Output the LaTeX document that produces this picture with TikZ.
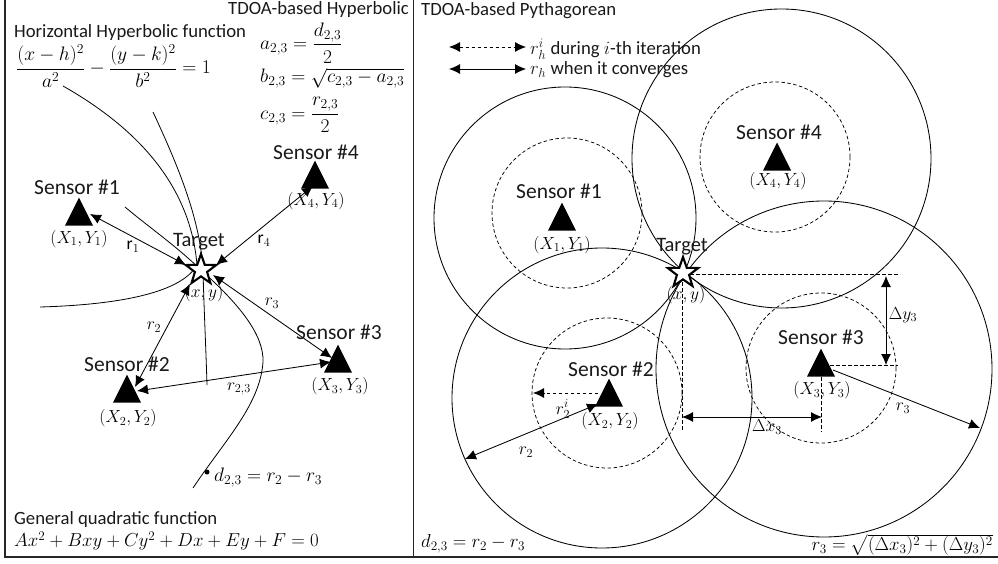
\documentclass[tikz,border=0pt]{standalone}
\usepackage{fix-cm}
\usepackage{amsmath}
\usepackage{fontspec}
\setmainfont{Carlito}
\usetikzlibrary{arrows.meta,shapes.geometric}
\tikzset{
  lbl/.style={inner sep=0pt,font=\fontsize{18.7}{22}\selectfont,text=black!90},
  sen/.style={inner sep=0pt,font=\fontsize{21.5}{25}\selectfont,text=black!90},
  tgt/.style={inner sep=0pt,font=\fontsize{20.5}{24}\selectfont,text=black!90},
  mth/.style={inner sep=0pt,font=\fontsize{18.8}{22}\selectfont,text=black},
  mbg/.style={inner sep=0pt,font=\fontsize{19.5}{23}\selectfont,text=black},
  msm/.style={inner sep=0pt,font=\fontsize{17.5}{20}\selectfont,text=black},
  sens/.style={isosceles triangle,shape border rotate=90,isosceles triangle stretches,minimum width=28pt,minimum height=28pt,inner sep=0pt,fill=black,anchor=apex},
  targ/.style={star,star points=5,star point ratio=2.5,minimum size=32pt,inner sep=0pt,fill=white,draw=black,line width=2.1pt},
  bigc/.style={circle,draw=black,line width=0.85pt,inner sep=0pt},
  dashc/.style={circle,draw=black,line width=0.75pt,inner sep=0pt,dash pattern=on 3.5pt off 2.5pt,minimum size=150pt},
  curve/.style={draw=black,line width=0.8pt},
  dbl/.style={line width=0.85pt,{Latex[length=11pt,width=10pt]}-{Latex[length=11pt,width=10pt]}},
  one/.style={line width=0.85pt,-{Latex[length=11pt,width=10pt]}},
  dline/.style={line width=0.85pt,dash pattern=on 3.5pt off 2.5pt},
  frameline/.style={line width=1.6pt,draw=black!85},
}
\begin{document}
\begin{tikzpicture}[x=1pt,y=-1pt]
\useasboundingbox (0,0) rectangle (998,564);
% frame
\coordinate (fa) at (5,0); \coordinate (fb) at (5,557); \coordinate (fc) at (998,557);
\coordinate (fm) at (413,0); \coordinate (fn) at (413,557);
\draw[frameline] (fa) -- (fb) -- (fc);
\draw[frameline,line width=1pt] (fm) -- (fn);

% ---------- left panel: hyperbolas
\coordinate (h1a) at (63,86); \coordinate (h1b) at (197,265); \coordinate (h1c) at (40,307);
\coordinate (h2a) at (153,112); \coordinate (h2b) at (203,270); \coordinate (h2c) at (207,385);
\coordinate (h3a) at (125,207); \coordinate (h3b) at (201,270); \coordinate (h3c) at (263,362); \coordinate (h3d) at (193,488);
\path[curve] (h1a) .. controls (130,124) and (190,180) .. (h1b) .. controls (180,295) and (110,305) .. (h1c);
\path[curve] (h2a) .. controls (180,170) and (200,220) .. (h2b) .. controls (204,310) and (206,350) .. (h2c);
\path[curve] (h3a) .. controls (150,228) and (175,245) .. (h3b) .. controls (240,305) and (264,335) .. (h3c) .. controls (260,405) and (225,440) .. (h3d);

% left sensors
\node[sens] (ls1) at (79,197) {};
\node[sens] (ls2) at (127,374) {};
\node[sens] (ls3) at (338,344) {};
\node[sens] (ls4) at (315,160) {};
\node[targ] (lt) at (201,270) {};

% left connectors
\coordinate (l1a) at (90,214); \coordinate (l1b) at (186,265);
\coordinate (l2a) at (135,387); \coordinate (l2b) at (190,284);
\coordinate (l3a) at (332,358); \coordinate (l3b) at (213,275);
\coordinate (l4a) at (313,186); \coordinate (l4b) at (216,265);
\coordinate (l5a) at (137,391); \coordinate (l5b) at (331,362);
\draw[dbl] (l1a) -- (l1b);
\draw[dbl] (l2a) -- (l2b);
\draw[dbl] (l3a) -- (l3b);
\draw[dbl] (l4a) -- (l4b);
\draw[dbl] (l5a) -- (l5b);
\node[circle,fill=black,inner sep=0pt,minimum size=5pt] (ldot) at (207,472) {};

% left text
\node[lbl,anchor=east] (t1) at (409,10) {TDOA-based Hyperbolic};
\node[lbl,anchor=west] (t2) at (14,33) {Horizontal Hyperbolic function};
\node[mbg,anchor=west] (t3) at (16,66) {$\dfrac{(x-h)^2}{a^2}-\dfrac{(y-k)^2}{b^2}=1$};
\node[mbg,anchor=west] (t4) at (260,43) {$a_{2,3}=\dfrac{d_{2,3}}{2}$};
\node[mbg,anchor=west] (t5) at (260,78) {$b_{2,3}=\sqrt{c_{2,3}-a_{2,3}}$};
\node[mbg,anchor=west] (t6) at (260,115) {$c_{2,3}=\dfrac{r_{2,3}}{2}$};
\node[sen] (s4t) at (316,152) {Sensor \#4};
\node[msm] (s4c) at (316,201) {$(X_4,Y_4)$};
\node[sen] (s1t) at (77,187) {Sensor \#1};
\node[msm] (s1c) at (79,239) {$(X_1,Y_1)$};
\node[tgt] (ltt) at (199,242) {Target};
\node[msm] (lxy) at (204,293) {$(x,y)$};
\node[msm] (lr1) at (133,247) {$\mathrm{r}_1$};
\node[msm] (lr4) at (264,241) {$\mathrm{r}_4$};
\node[msm] (lr3) at (272,303) {$r_3$};
\node[msm] (lr2) at (154,327) {$r_2$};
\node[msm] (lr23) at (239,389) {$r_{2,3}$};
\node[sen] (s3t) at (339,332) {Sensor \#3};
\node[msm] (s3c) at (340,386) {$(X_3,Y_3)$};
\node[sen] (s2t) at (127,364) {Sensor \#2};
\node[msm] (s2c) at (128,418) {$(X_2,Y_2)$};
\node[mbg,anchor=west] (ld) at (214,478) {$d_{2,3}=r_2-r_3$};
\node[lbl,anchor=west] (g1) at (14,520) {General quadratic function};
\node[mth,anchor=west] (g2) at (14,541) {$Ax^2+Bxy+Cy^2+Dx+Ey+F=0$};

% ---------- right panel: circles
\node[bigc,minimum size=262pt] (c1) at (565,218) {};
\node[bigc,minimum size=300pt] (c2) at (602,398) {};
\node[bigc,minimum size=336pt] (c3) at (824,369) {};
\node[bigc,minimum size=299pt] (c4) at (781.5,158.5) {};
\node[dashc] (d1) at (567,213) {};
\node[dashc] (d2) at (607,393) {};
\node[dashc] (d3) at (821,368) {};
\node[dashc] (d4) at (775,157) {};

\node[sens] (rs1) at (562,202) {};
\node[sens] (rs2) at (609,378) {};
\node[sens] (rs3) at (821,348) {};
\node[sens] (rs4) at (777,142) {};
\node[targ] (rt) at (683,273) {};

% legend arrows
\coordinate (la1) at (449,47); \coordinate (la2) at (526,47);
\coordinate (lb1) at (449,69); \coordinate (lb2) at (526,69);
\draw[dbl,dash pattern=on 3.5pt off 2.5pt] (la1) -- (la2);
\draw[dbl] (lb1) -- (lb2);

% right dashed construction lines
\coordinate (p1) at (690,274); \coordinate (p2) at (900,274);
\coordinate (p3) at (682,282); \coordinate (p4) at (682,430);
\coordinate (p5) at (830,365); \coordinate (p6) at (898,365);
\coordinate (p7) at (821,377); \coordinate (p8) at (821,432);
\draw[dline] (p1) -- (p2);
\draw[dline] (p3) -- (p4);
\draw[dline] (p5) -- (p6);
\draw[dline] (p7) -- (p8);

% right arrows
\coordinate (q1) at (886,276); \coordinate (q2) at (886,365);
\coordinate (q3) at (682,417); \coordinate (q4) at (822,417);
\coordinate (q5) at (833,370); \coordinate (q6) at (980,428);
\coordinate (q7) at (598,404); \coordinate (q8) at (465,459);
\coordinate (q9) at (598,393); \coordinate (q10) at (533,393);
\draw[dbl] (q1) -- (q2);
\draw[dbl] (q3) -- (q4);
\draw[one] (q5) -- (q6);
\draw[dbl] (q7) -- (q8);
\draw[one,dash pattern=on 3.5pt off 2.5pt] (q9) -- (q10);

% right text
\node[lbl,anchor=west] (t7) at (421,11) {TDOA-based Pythagorean};
\node[lbl,anchor=west] (t8) at (530,49) {$r_h^i$ during $i$-th iteration};
\node[lbl,anchor=west] (t9) at (530,70) {$r_h$ when it converges};
\node[sen] (r1t) at (559,191) {Sensor \#1};
\node[msm] (r1c) at (562,245) {$(X_1,Y_1)$};
\node[tgt] (rtt) at (682,247) {Target};
\node[msm] (rxy) at (686,295) {$(x,y)$};
\node[sen] (r4t) at (779,132) {Sensor \#4};
\node[msm] (r4c) at (778,181) {$(X_4,Y_4)$};
\node[sen] (r3t) at (821,337) {Sensor \#3};
\node[msm] (r3c) at (822,390) {$(X_3,Y_3)$};
\node[msm] (rdy) at (903,315) {$\Delta y_3$};
\node[msm] (rdx) at (767,427) {$\Delta x_3$};
\node[msm] (rr3) at (903,408) {$r_3$};
\node[sen] (r2t) at (611,369) {Sensor \#2};
\node[msm] (r2c) at (610,421) {$(X_2,Y_2)$};
\node[msm] (rr2i) at (563,409) {$r_2^i$};
\node[msm] (rr2) at (526,452) {$r_2$};
\node[mth,anchor=west] (rd) at (421,544) {$d_{2,3}=r_2-r_3$};
\node[mth,anchor=east] (rr) at (993,545) {$r_3=\sqrt{(\Delta x_3)^2+(\Delta y_3)^2}$};
\end{tikzpicture}
\end{document}
